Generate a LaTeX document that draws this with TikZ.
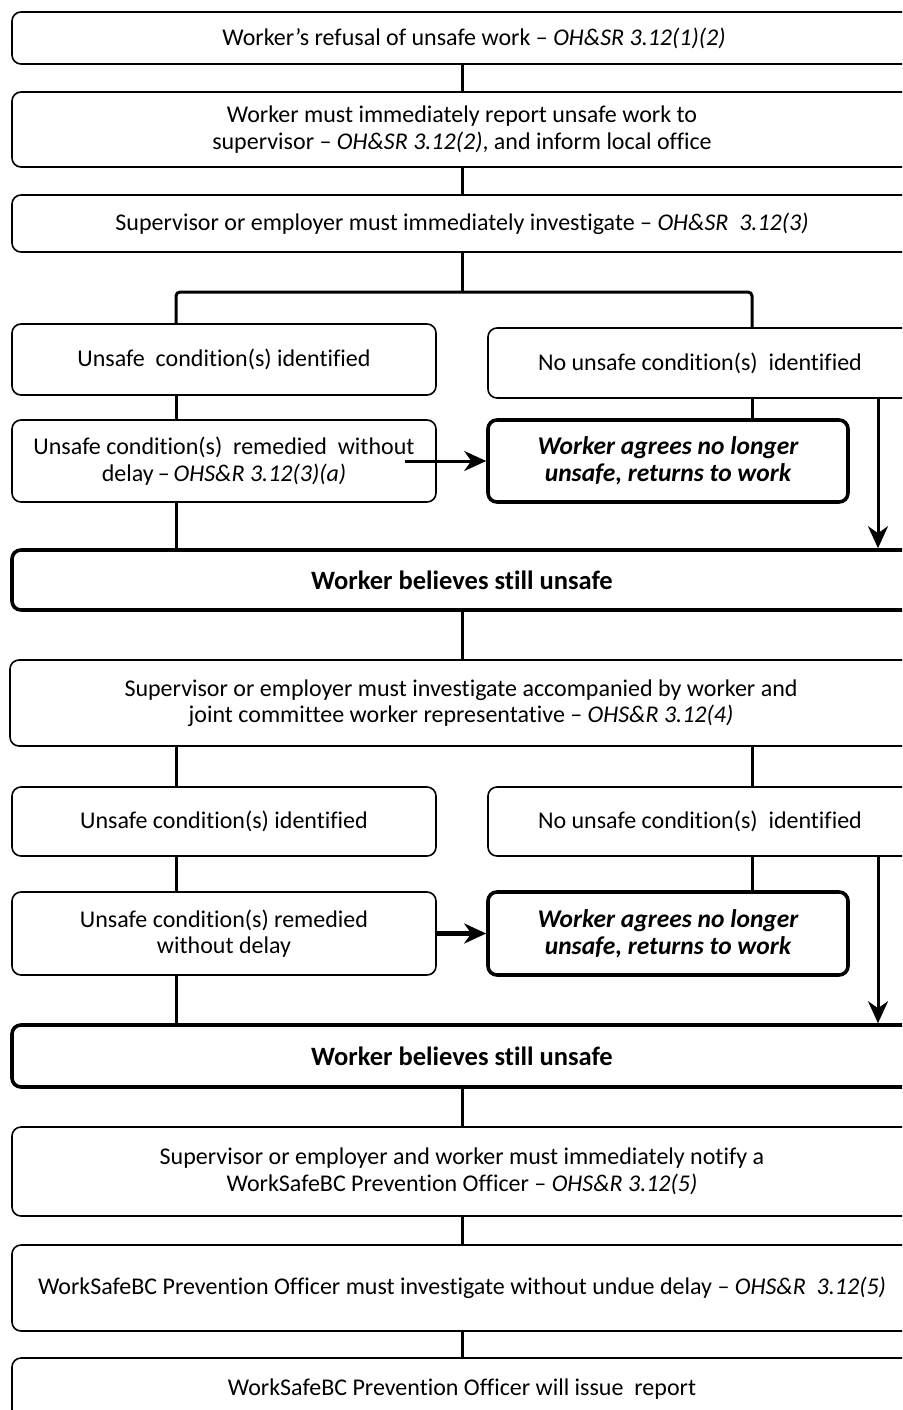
\documentclass[tikz,border=0pt]{standalone}
\usepackage{fontspec}
\setmainfont[Ligatures={NoCommon}]{Carlito}
\usetikzlibrary{
  arrows.meta,
  positioning,
}
\tikzstyle{box} = [
  draw,
  rectangle,
  rounded corners=9pt,
  line width=1.6pt,
  align=center,
  inner sep=0pt,
  font=\fontsize{24}{26.5}\selectfont,
]
\tikzstyle{heavybox} = [box, line width=3.6pt]
\tikzstyle{agreebox} = [heavybox, font=\fontsize{25.5}{27}\selectfont\bfseries\itshape]
\tikzstyle{stillbox} = [heavybox, font=\fontsize{26.5}{28}\selectfont\bfseries]
\tikzstyle{link} = [line width=3pt]
\tikzstyle{arrow} = [
  -{Stealth[length=22pt,width=20pt,inset=7pt]},
  line width=3pt,
]

\begin{document}
\begin{tikzpicture}[x=1pt,y=-1pt]
    \useasboundingbox (0,0) rectangle (902,1410);
    \clip (0,0) rectangle (902,1410);
    \coordinate (mid) at (462,0);
    \coordinate (lcol) at (176,0);
    \coordinate (rcol) at (752,0);
    \coordinate (rarr) at (878,0);
    \coordinate (fork) at (462,292);

        \node[box,minimum width=924,minimum height=52]    (n1)  at (474,38)    {Worker’s refusal of unsafe work – \textit{OH\&SR 3.12(1)(2)}};
        \node[box,minimum width=900,minimum height=75]    (n2)  at (462,129.5) {Worker must immediately report unsafe work to\\supervisor – \textit{OH\&SR 3.12(2)}, and inform local office};
        \node[box,minimum width=900,minimum height=57]    (n3)  at (462,223.5) {Supervisor or employer must immediately investigate – \textit{OH\&SR\ \ 3.12(3)}};

        \node[box,minimum width=424,minimum height=71]    (n4l) at (224,359.5) {Unsafe\ \ condition(s) identified};
        \node[box,minimum width=424,minimum height=70]    (n4r) at (700,363)   {No unsafe condition(s)\ \ identified};
        \node[box,minimum width=424,minimum height=82]    (n5l) at (224,461)   {Unsafe condition(s)\ \ remedied\ \ without\\delay\,–\,\textit{OHS\&R 3.12(3)(a)}};
        \node[agreebox,minimum width=360,minimum height=82] (n5r) at (668,461)  {Worker agrees no longer\\unsafe, returns to work};
        \node[stillbox,minimum width=900,minimum height=60] (n6) at (462,580)   {Worker believes still unsafe};

        \node[box,minimum width=902,minimum height=86]    (n7)  at (461,703)   {Supervisor or employer must investigate accompanied by worker and\\joint committee worker representative – \textit{OHS\&R 3.12(4)}};
        \node[box,minimum width=424,minimum height=69]    (n8l) at (224,821.5) {Unsafe condition(s) identified};
        \node[box,minimum width=424,minimum height=69]    (n8r) at (700,821.5) {No unsafe condition(s)\ \ identified};
        \node[box,minimum width=424,minimum height=83]    (n9l) at (224,933.5) {Unsafe condition(s) remedied\\without delay};
        \node[agreebox,minimum width=360,minimum height=83] (n9r) at (668,933.5) {Worker agrees no longer\\unsafe, returns to work};
        \node[stillbox,minimum width=900,minimum height=62] (n10) at (462,1056) {Worker believes still unsafe};

        \node[box,minimum width=900,minimum height=89]    (n11) at (462,1171.5) {Supervisor or employer and worker must immediately notify a\\WorkSafeBC Prevention Officer – \textit{OHS\&R 3.12(5)}};
        \node[box,minimum width=900,minimum height=86]    (n12) at (462,1288)  {WorkSafeBC Prevention Officer must investigate without undue delay – \textit{OHS\&R\ \ 3.12(5)}};
        \node[box,minimum width=900,minimum height=62]    (n13) at (462,1389)  {WorkSafeBC Prevention Officer will issue\ \ report};

        \coordinate (a1) at (405,461);

        \draw[link] (n1.south -| mid) -- (n2.north -| mid);
        \draw[link] (n2.south -| mid) -- (n3.north -| mid);
        \draw[link] (n3.south -| mid) -- (fork);
        \draw[link,rounded corners=4pt] (n4l.north -| lcol) |- (fork) -| (n4r.north -| rcol);
        \draw[link] (n4l.south -| lcol) -- (n5l.north -| lcol);
        \draw[link] (n4r.south -| rcol) -- (n5r.north -| rcol);
        \draw[arrow] (a1) -- (n5r.west);
        \draw[arrow] (n4r.south -| rarr) -- (n6.north -| rarr);
        \draw[link] (n5l.south -| lcol) -- (n6.north -| lcol);
        \draw[link] (n6.south -| mid) -- (n7.north -| mid);

        \draw[link] (n7.south -| lcol) -- (n8l.north -| lcol);
        \draw[link] (n7.south -| rcol) -- (n8r.north -| rcol);
        \draw[link] (n8l.south -| lcol) -- (n9l.north -| lcol);
        \draw[link] (n8r.south -| rcol) -- (n9r.north -| rcol);
        \draw[arrow,line width=5pt] (n9l.east) -- (n9r.west);
        \draw[arrow] (n8r.south -| rarr) -- (n10.north -| rarr);
        \draw[link] (n9l.south -| lcol) -- (n10.north -| lcol);
        \draw[link] (n10.south -| mid) -- (n11.north -| mid);
        \draw[link] (n11.south -| mid) -- (n12.north -| mid);
        \draw[link] (n12.south -| mid) -- (n13.north -| mid);
    \end{tikzpicture}
\end{document}
